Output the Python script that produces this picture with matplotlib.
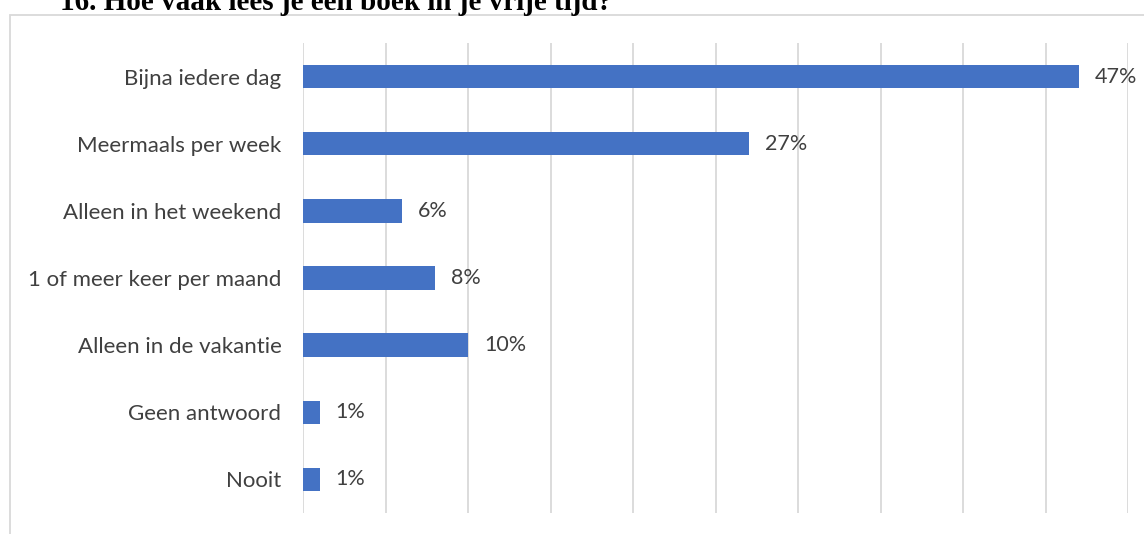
import matplotlib
matplotlib.use("Agg")
import matplotlib.pyplot as plt
from matplotlib.patches import Rectangle

categories = [
    "Bijna iedere dag",
    "Meermaals per week",
    "Alleen in het weekend",
    "1 of meer keer per maand",
    "Alleen in de vakantie",
    "Geen antwoord",
    "Nooit",
]
values = [47, 27, 6, 8, 10, 1, 1]
x_ticks = list(range(0, 55, 5))
title = "16. Hoe vaak lees je een boek in je vrije tijd?"

W, H = 1144, 534
fig = plt.figure(figsize=(W / 100, H / 100), dpi=100)
fig.patch.set_facecolor("white")

# outer chart frame (runs off the right and bottom edges)
fig.patches.append(Rectangle((10 / W, -0.1), 1.2, 1.1 - 15 / H,
                             transform=fig.transFigure, fill=False,
                             edgecolor="#d9d9d9", linewidth=1.3))

ax = fig.add_axes([303 / W, 1 - 513 / H, (1128 - 303) / W, (513 - 43) / H])
pos = list(range(len(categories)))
ax.barh(pos, values, height=0.35, color="#4472c4", zorder=3)
ax.set_xlim(0, 50)
ax.set_ylim(len(categories) - 0.5, -0.5)
ax.set_xticks(x_ticks)
ax.set_xticklabels([])
ax.tick_params(axis="x", length=0)
ax.tick_params(axis="y", length=0, pad=15.5)
ax.set_yticks(pos)
ax.set_yticklabels(categories, fontsize=16, color="#404040", family="Lato")
ax.grid(axis="x", color="#d9d9d9", linewidth=1.3, zorder=0)
for s in ax.spines.values():
    s.set_visible(False)

for p, v in zip(pos, values):
    ax.annotate(f"{v}%", (v, p), xytext=(16, 0), textcoords="offset pixels",
                va="center", ha="left", fontsize=15.5, color="#404040",
                family="Lato")

fig.text(60 / W, 1 - 10 / H, title, ha="left", va="baseline",
         fontsize=21, fontweight="bold", family="Liberation Serif",
         color="black")

fig.savefig("out.png", dpi=100)
